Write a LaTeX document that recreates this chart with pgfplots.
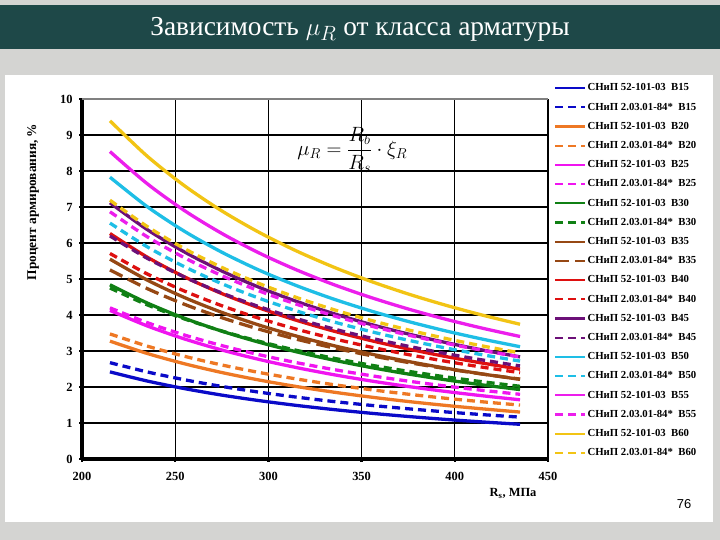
\documentclass[border=0pt]{standalone}
\usepackage{fontspec}
\setmainfont{Liberation Serif}
\newfontfamily\sansf{Liberation Sans}
\usepackage{pgfplots}
\pgfplotsset{compat=1.18}
\definecolor{bgc}{RGB}{212,212,210}
\definecolor{barc}{RGB}{30,72,72}
\definecolor{cB15}{RGB}{10,10,200}
\definecolor{cB20}{RGB}{238,120,36}
\definecolor{cB25}{RGB}{240,20,240}
\definecolor{cB30}{RGB}{16,128,20}
\definecolor{cB35}{RGB}{150,72,20}
\definecolor{cB40}{RGB}{222,16,16}
\definecolor{cB45}{RGB}{108,16,120}
\definecolor{cB50}{RGB}{30,190,230}
\definecolor{cB55}{RGB}{236,30,236}
\definecolor{cB60}{RGB}{242,196,20}
\begin{document}
\begin{tikzpicture}
\fill[bgc] (0bp,0bp) rectangle (720bp,540bp);
\fill[barc] (0bp,491bp) rectangle (720bp,535bp);
\node[text=white,font=\fontsize{27.5}{29}\selectfont] at (360bp,511bp) {Зависимость $\mu_R$ от класса арматуры};
\fill[white] (5bp,18bp) rectangle (713bp,465bp);
\node[font=\sansf\fontsize{13}{14}\selectfont] at (684bp,36bp) {76};
\begin{axis}[
  at={(82bp,81bp)}, anchor=south west,
  scale only axis, width=466bp, height=360bp,
  xmin=200, xmax=450, ymin=0, ymax=10,
  xtick={200,250,...,450}, ytick={0,1,...,10},
  axis lines=left, axis line style={-, line width=3.4pt},
  grid=major, major grid style={black, line width=1.1pt},
  tick align=outside, major tick length=3pt,
  tick style={black, line width=2.4pt},
  /pgf/number format/assume math mode=true,
  ticklabel style={font=\bfseries\fontsize{12.5}{14}\selectfont},
  xticklabel style={yshift=-7bp},
  yticklabel style={xshift=-3bp},
  clip=false,
  legend cell align=left,
  legend style={at={(rel axis cs:1.006,1.063)}, anchor=north west, draw=none, fill=white,
    font=\bfseries\fontsize{10.8}{10.8}\selectfont,
    nodes={text height=7.5bp, text depth=2bp, inner ysep=4.85bp, inner xsep=1.5bp}},
  legend image code/.code={\draw[#1, line width=2.1pt] (0bp,0bp) -- (30bp,0bp);},
  every axis plot/.append style={line width=3.3pt, smooth},
]
\draw[gray, line width=1.4pt] (rel axis cs:0,1) -- (rel axis cs:1,1);
\addplot[cB15] coordinates {(215,2.420)(235,2.166)(255,1.955)(275,1.775)(295,1.622)(315,1.489)(335,1.373)(355,1.271)(375,1.181)(395,1.100)(415,1.029)(435,0.964)};
\addlegendentry{СНиП 52-101-03\ \ B15}
\addplot[cB15, dash pattern=on 8bp off 5bp] coordinates {(215,2.676)(235,2.418)(255,2.201)(275,2.016)(295,1.857)(315,1.719)(335,1.597)(355,1.490)(375,1.395)(395,1.309)(415,1.232)(435,1.163)};
\addlegendentry{СНиП 2.03.01-84*\ \ B15}
\addplot[cB20] coordinates {(215,3.274)(235,2.931)(255,2.645)(275,2.402)(295,2.194)(315,2.014)(335,1.857)(355,1.719)(375,1.597)(395,1.489)(415,1.392)(435,1.304)};
\addlegendentry{СНиП 52-101-03\ \ B20}
\addplot[cB20, dash pattern=on 8bp off 5bp] coordinates {(215,3.474)(235,3.136)(255,2.853)(275,2.612)(295,2.404)(315,2.223)(335,2.065)(355,1.925)(375,1.800)(395,1.688)(415,1.588)(435,1.498)};
\addlegendentry{СНиП 2.03.01-84*\ \ B20}
\addplot[cB25] coordinates {(215,4.128)(235,3.696)(255,3.334)(275,3.028)(295,2.766)(315,2.540)(335,2.342)(355,2.168)(375,2.014)(395,1.877)(415,1.755)(435,1.645)};
\addlegendentry{СНиП 52-101-03\ \ B25}
\addplot[cB25, dash pattern=on 8bp off 5bp] coordinates {(215,4.199)(235,3.788)(255,3.443)(275,3.150)(295,2.897)(315,2.677)(335,2.485)(355,2.315)(375,2.163)(395,2.028)(415,1.906)(435,1.797)};
\addlegendentry{СНиП 2.03.01-84*\ \ B25}
\addplot[cB30] coordinates {(215,4.839)(235,4.333)(255,3.909)(275,3.551)(295,3.243)(315,2.978)(335,2.746)(355,2.542)(375,2.361)(395,2.201)(415,2.057)(435,1.928)};
\addlegendentry{СНиП 52-101-03\ \ B30}
\addplot[cB30, dash pattern=on 8bp off 5bp] coordinates {(215,4.750)(235,4.282)(255,3.890)(275,3.556)(295,3.269)(315,3.019)(335,2.800)(355,2.607)(375,2.436)(395,2.282)(415,2.144)(435,2.020)};
\addlegendentry{СНиП 2.03.01-84*\ \ B30}
\addplot[cB35] coordinates {(215,5.551)(235,4.970)(255,4.484)(275,4.073)(295,3.720)(315,3.415)(335,3.149)(355,2.916)(375,2.709)(395,2.525)(415,2.360)(435,2.212)};
\addlegendentry{СНиП 52-101-03\ \ B35}
\addplot[cB35, dash pattern=on 14bp off 6bp] coordinates {(215,5.252)(235,4.733)(255,4.296)(275,3.925)(295,3.606)(315,3.329)(335,3.086)(355,2.872)(375,2.681)(395,2.511)(415,2.358)(435,2.220)};
\addlegendentry{СНиП 2.03.01-84*\ \ B35}
\addplot[cB40] coordinates {(215,6.263)(235,5.607)(255,5.059)(275,4.595)(295,4.197)(315,3.853)(335,3.553)(355,3.289)(375,3.056)(395,2.848)(415,2.662)(435,2.495)};
\addlegendentry{СНиП 52-101-03\ \ B40}
\addplot[cB40, dash pattern=on 8bp off 5bp] coordinates {(215,5.709)(235,5.140)(255,4.664)(275,4.258)(295,3.910)(315,3.607)(335,3.342)(355,3.109)(375,2.901)(395,2.716)(415,2.549)(435,2.399)};
\addlegendentry{СНиП 2.03.01-84*\ \ B40}
\addplot[cB45] coordinates {(215,7.117)(235,6.372)(255,5.749)(275,5.222)(295,4.770)(315,4.379)(335,4.038)(355,3.738)(375,3.473)(395,3.237)(415,3.026)(435,2.836)};
\addlegendentry{СНиП 52-101-03\ \ B45}
\addplot[cB45, dash pattern=on 8bp off 5bp] coordinates {(215,6.196)(235,5.575)(255,5.054)(275,4.612)(295,4.232)(315,3.902)(335,3.613)(355,3.358)(375,3.132)(395,2.930)(415,2.749)(435,2.585)};
\addlegendentry{СНиП 2.03.01-84*\ \ B45}
\addplot[cB50] coordinates {(215,7.828)(235,7.009)(255,6.324)(275,5.744)(295,5.246)(315,4.817)(335,4.442)(355,4.112)(375,3.820)(395,3.560)(415,3.328)(435,3.119)};
\addlegendentry{СНиП 52-101-03\ \ B50}
\addplot[cB50, dash pattern=on 8bp off 5bp] coordinates {(215,6.553)(235,5.893)(255,5.340)(275,4.870)(295,4.466)(315,4.115)(335,3.809)(355,3.539)(375,3.299)(395,3.085)(415,2.893)(435,2.719)};
\addlegendentry{СНиП 2.03.01-84*\ \ B50}
\addplot[cB55] coordinates {(215,8.540)(235,7.646)(255,6.899)(275,6.266)(295,5.723)(315,5.255)(335,4.845)(355,4.486)(375,4.167)(395,3.884)(415,3.631)(435,3.403)};
\addlegendentry{СНиП 52-101-03\ \ B55}
\addplot[cB55, dash pattern=on 8bp off 5bp] coordinates {(215,6.867)(235,6.172)(255,5.589)(275,5.094)(295,4.669)(315,4.301)(335,3.979)(355,3.694)(375,3.442)(395,3.218)(415,3.016)(435,2.834)};
\addlegendentry{СНиП 2.03.01-84*\ \ B55}
\addplot[cB60] coordinates {(215,9.394)(235,8.411)(255,7.589)(275,6.892)(295,6.296)(315,5.780)(335,5.330)(355,4.934)(375,4.584)(395,4.273)(415,3.994)(435,3.743)};
\addlegendentry{СНиП 52-101-03\ \ B60}
\addplot[cB60, dash pattern=on 8bp off 5bp] coordinates {(215,7.189)(235,6.457)(255,5.843)(275,5.322)(295,4.875)(315,4.488)(335,4.149)(355,3.851)(375,3.586)(395,3.350)(415,3.138)(435,2.948)};
\addlegendentry{СНиП 2.03.01-84*\ \ B60}
\node[rotate=90, font=\bfseries\fontsize{13.4}{14}\selectfont] at (rel axis cs:-0.105,0.714) {Процент армирования, \%};
\node[font=\bfseries\fontsize{12.5}{14}\selectfont] at (rel axis cs:0.925,-0.095) {R\textsubscript{s}, МПа};
\node[font=\fontsize{21}{24}\selectfont] at (axis cs:345,8.58) {$\displaystyle \mu_R=\frac{R_b}{R_s}\cdot\xi_R$};
\end{axis}
\pgfresetboundingbox
\path[use as bounding box] (0bp,0bp) rectangle (720bp,540bp);
\end{tikzpicture}
\end{document}
